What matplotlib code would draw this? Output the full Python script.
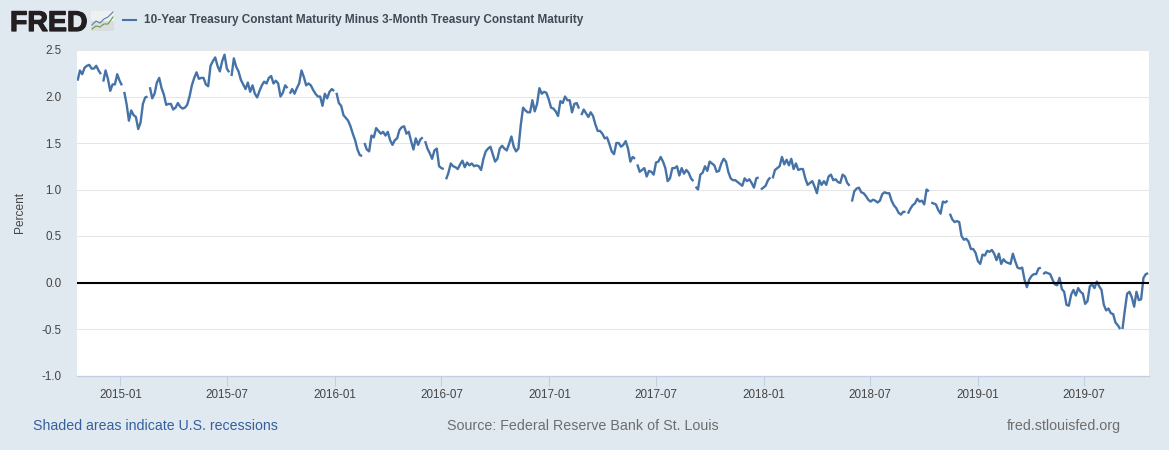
import numpy as np
import pandas as pd
import matplotlib
matplotlib.use("Agg")
import matplotlib.pyplot as plt
import matplotlib.dates as mdates
import matplotlib.patheffects as pe
from matplotlib.patches import Rectangle
from matplotlib.lines import Line2D

nan = float("nan")
START = "2014-10-20"
STEP_DAYS = 3.975
XMIN, XMAX = "2014-10-19", "2019-10-20"

# nan marks a break in the line (a missing observation) between two readings
spread_a = [2.17,2.28,2.24,2.31,2.33,2.34,2.30,2.30,2.33,2.28,2.24,nan,2.16,2.28,2.19,2.06,2.13,2.13,2.24,2.17,2.12,nan,
 2.05,1.92,1.74,1.85,1.80,1.78,1.65,1.72,1.92,1.99,2.00,nan,2.10,1.98,2.03,2.15,2.20,2.09,2.02,1.91,1.92,
 1.92,1.86,1.88,1.93,1.89,1.87,1.88,1.91,2.00,2.12,2.20,2.26,2.19]
spread_b = [2.20,2.20,2.13,2.11,2.33,2.38,2.42,2.33,2.27,2.38,2.45,2.30,2.26,nan,2.22,2.41,2.32,2.27,2.18,2.13,2.08,
 2.15,2.05,2.12,2.03,1.99,2.06,2.12,2.16,2.14,2.20,2.22,2.14,2.17,2.14,2.00,2.04,2.12,2.09,nan,2.03,2.08,
 2.03,2.09,2.14,2.28,2.21,2.12,2.14,2.12,2.07,2.03,2.00,2.00,1.90]
spread_c = [2.03,1.98,2.05,2.08,2.06,nan,2.04,1.93,1.90,1.80,1.77,1.74,1.68,1.60,1.53,1.43,1.37,1.36,nan,1.50,1.43,1.41,
 1.58,1.56,1.66,1.63,1.60,1.62,1.58,1.62,1.53,1.48,1.53,1.55,1.64,1.67,1.68,1.60,1.62,1.52,1.43,1.55,
 1.48,1.54,1.56,nan,1.52,1.44,1.39,1.33,1.42,1.44,1.25,1.23,1.22,nan,1.11,1.18]
spread_d = [1.28,1.25,1.24,1.22,1.27,1.31,1.24,1.29,1.26,1.28,1.25,1.26,1.25,1.21,1.33,1.41,1.44,1.46,1.38,1.30,
 1.33,1.44,1.47,1.44,1.42,1.49,1.57,1.46,1.41,1.44,1.69,1.88,1.85,1.83,1.83,1.96,1.84,1.92,2.09,2.03,
 2.05,2.04,1.97,1.88,1.87,1.84,1.79,1.95,1.93,2.00,1.96,1.96,1.83]
spread_e = [1.92,1.93,1.87,nan,1.80,1.86,1.82,1.78,1.83,1.79,1.70,1.63,1.63,1.60,1.55,1.56,1.49,1.41,1.38,1.50,1.50,
 1.46,1.48,1.52,1.44,1.30,1.35,1.33,nan,1.27,1.19,1.21,1.23,1.14,1.20,1.19,1.16,1.29,1.30,1.35,1.30,1.23,
 1.09,1.12,1.23,1.23,1.25,1.15,1.23,1.17,1.21,1.18,1.12,1.09,nan,1.03,1.00]
spread_f = [1.16,1.18,1.25,1.20,1.30,1.28,1.26,1.19,1.20,1.28,1.33,1.30,1.19,1.12,1.10,1.10,1.08,1.06,1.04,1.12,
 1.09,1.11,1.07,1.02,1.12,1.13,nan,1.00,1.02,1.04,1.10,1.13,nan,1.12,1.21,1.23,1.25,1.35,1.27,1.32,1.26,1.33,
 1.22,1.28,1.21,1.22,1.22,1.12,1.05,1.07,1.09,1.03,0.96,1.10,1.05,1.09]
spread_g = [1.05,1.14,1.16,1.10,1.11,1.08,1.07,1.16,1.14,1.07,1.04,nan,0.87,0.98,1.01,1.02,0.97,0.96,0.93,0.89,0.87,
 0.89,0.88,0.86,0.88,0.95,0.97,0.96,0.96,0.88,0.83,0.80,0.75,0.73,0.76,0.76,nan,0.74,0.79,0.83,0.85,0.90,
 0.87,0.88,0.84,1.00,0.98,nan,0.86,0.85,0.84,0.78,0.74,0.87]
spread_h = [0.86,0.88,nan,0.74,0.68,0.65,0.66,0.65,0.50,0.46,0.47,0.44,0.36,0.36,0.32,0.23,0.20,0.30,0.29,0.34,0.33,
 0.35,0.31,0.24,0.31,0.20,0.25,0.22,0.21,0.20,0.31,0.23,0.16,0.15,0.16,0.03,-0.05,0.03,0.07,0.09,0.09,0.15]
spread_i = [0.16,nan,0.09,0.11,0.10,0.09,0.03,-0.02,-0.03,0.05,-0.07,-0.10,-0.24,-0.25,-0.13,-0.08,-0.14,-0.06,-0.10,-0.12,-0.23,
 -0.20,-0.04,-0.02,-0.06,0.01,-0.04,-0.08,-0.24,-0.30,-0.28,-0.33,-0.34,-0.43,-0.46,-0.50,nan,-0.50,-0.30,-0.12,-0.10,-0.16,
 -0.26,-0.10,-0.19,-0.18,0.05,0.09,0.10]

values = spread_a + spread_b + spread_c + spread_d + spread_e + spread_f + spread_g + spread_h + spread_i

# Readings sit on a regular calendar; a break falls half-way between its two neighbours
dates = []
t = pd.Timestamp(START)
for v in values:
    if np.isnan(v):
        dates.append(t - pd.Timedelta(days=STEP_DAYS / 2))
    else:
        dates.append(t)
        t += pd.Timedelta(days=STEP_DAYS)

y_ticks = [-1.0, -0.5, 0.0, 0.5, 1.0, 1.5, 2.0, 2.5]
x_ticks = ["2015-01-01","2015-07-01","2016-01-01","2016-07-01","2017-01-01","2017-07-01",
           "2018-01-01","2018-07-01","2019-01-01","2019-07-01"]

W, H = 1169, 450
BG = "#e1e9f0"
LINE = "#4572a7"
TXT = "#444444"
FONT = "Liberation Sans"
plt.rcParams["font.family"] = [FONT, "DejaVu Sans"]

fig = plt.figure(figsize=(W/100, H/100), dpi=100, facecolor=BG)
ax = fig.add_axes([77/W, 1-375.5/H, (1149-77)/W, (375.5-50)/H], facecolor="white")
ax.plot(dates, values, color=LINE, lw=1.7, solid_joinstyle="round", solid_capstyle="butt", zorder=3)
ax.axhline(0, color="black", lw=1.5, zorder=4)
ax.set_xlim(pd.Timestamp(XMIN), pd.Timestamp(XMAX))
ax.set_ylim(-1.0, 2.5)
ax.set_yticks(y_ticks)
ax.set_yticklabels([f"{v:.1f}" for v in y_ticks])
ax.set_xticks(pd.to_datetime(x_ticks))
ax.xaxis.set_major_formatter(mdates.DateFormatter("%Y-%m"))
ax.grid(axis="y", color="#e6e6e6", lw=0.75, zorder=1)
ax.set_axisbelow(True)
for s in ["top", "left", "right"]:
    ax.spines[s].set_visible(False)
ax.spines["bottom"].set_color("#c0d0e0")
ax.spines["bottom"].set_linewidth(0.9)
ax.tick_params(axis="y", length=0, pad=11, labelsize=8.4, labelcolor=TXT)
ax.tick_params(axis="x", length=7.5, width=0.75, color="#c0d0e0", pad=2.5, labelsize=8.4, labelcolor=TXT)
ax.set_ylabel("Percent", fontsize=8.6, color=TXT)
ax.yaxis.set_label_coords((26-77)/(1149-77), 0.5)

# Header and footer furniture laid out in pixel coordinates
ov = fig.add_axes([0, 0, 1, 1], facecolor="none", zorder=5)
ov.set_xlim(0, W); ov.set_ylim(H, 0); ov.axis("off")
ov.text(10, 31, "FRED", fontsize=20.5, fontweight="bold", color="#231f20", va="baseline", ha="left",
        path_effects=[pe.withStroke(linewidth=0.9, foreground="#231f20")])
ov.add_patch(Rectangle((91, 11), 23, 20, facecolor="#d9dde0", edgecolor="none"))
ov.add_patch(Rectangle((91, 11), 23, 10, facecolor="#eef0f1", edgecolor="none"))
ov.add_line(Line2D([92, 96, 100, 104, 108, 113], [25, 21, 23, 19, 17, 12], color="#5b7da8", lw=0.8))
ov.add_line(Line2D([92, 96, 100, 104, 108, 113], [29, 26, 27, 24, 24, 17], color="#6a9a3a", lw=0.8))
ov.add_line(Line2D([123, 136], [19.5, 19.5], color=LINE, lw=1.5))
ov.text(144, 19.5, "10-Year Treasury Constant Maturity Minus 3-Month Treasury Constant Maturity",
        fontsize=8.47, fontweight="bold", color="#3f4a55", va="center", ha="left")
ov.text(33, 426, "Shaded areas indicate U.S. recessions", fontsize=10.2, color="#33609c", va="center", ha="left")
ov.text(447, 426, "Source: Federal Reserve Bank of St. Louis", fontsize=10.3, color="#6e6e6e", va="center", ha="left")
ov.text(1121, 426, "fred.stlouisfed.org", fontsize=10.3, color="#6e6e6e", va="center", ha="right")

fig.savefig("out.png", dpi=100, facecolor=BG)
